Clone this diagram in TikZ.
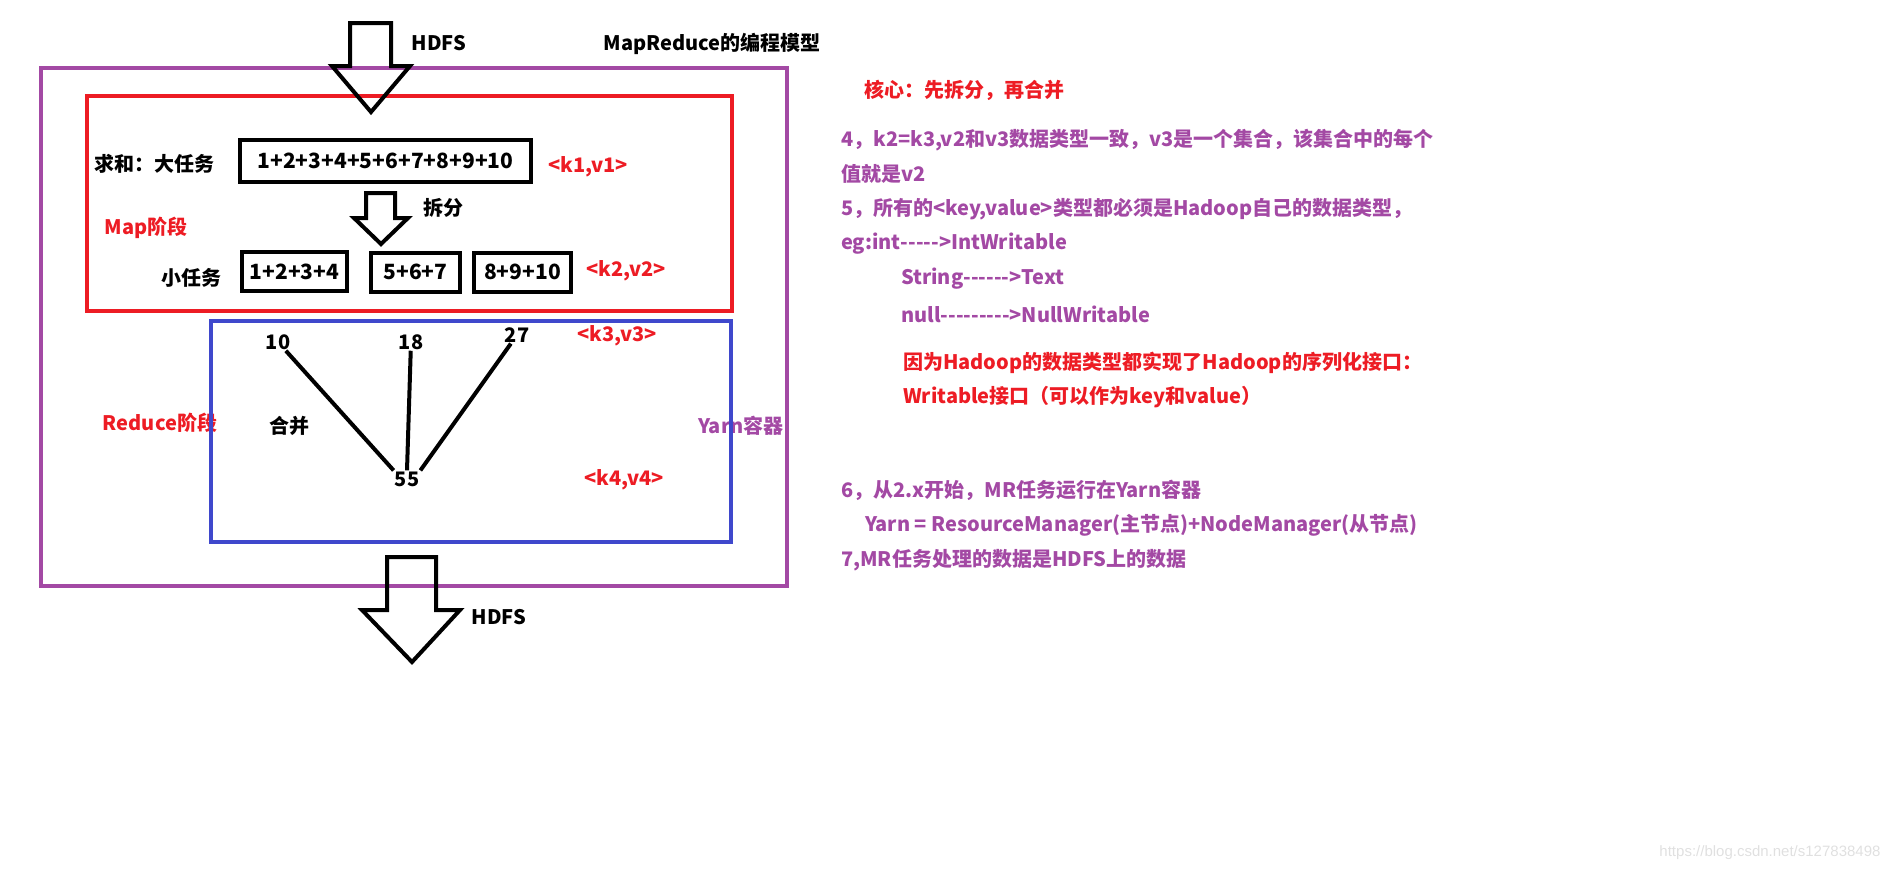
\documentclass[tikz,border=0pt]{standalone}
\usepackage{fontspec}
\setmainfont{Noto Sans CJK SC}
\newfontfamily\wmfont{Liberation Sans}
\definecolor{mrpurple}{RGB}{163,73,164}
\definecolor{mrred}{RGB}{237,28,36}
\definecolor{mrblue}{RGB}{63,72,204}
\newcommand{\hy}{\mbox{-}}

\begin{document}
\begin{tikzpicture}[x=1pt, y=-1pt, font=\fontsize{20}{24}\selectfont\bfseries,
  task/.style={draw, line width=4pt, minimum height=39pt, inner sep=0pt, font=\fontsize{21}{24}\selectfont\bfseries},
  blockarrow/.style={draw, line width=4pt},
  kv/.style={text=mrred},
  note/.style={anchor=west, text=mrpurple, inner sep=0pt},
  rednote/.style={anchor=west, text=mrred, inner sep=0pt}]

\useasboundingbox (0,0) rectangle (1892,873);

\node (model) at (712,44) {MapReduce的编程模型};
\node (hdfsin) at (439,43) {HDFS};
\node (hdfsout) at (499,617) {HDFS};

\draw[mrpurple, line width=4pt] (41,68) rectangle (787,586);
\draw[mrred, line width=4pt] (87,96) rectangle (732,311);

\node (bigtxt) at (154,164) {求和：大任务};
\node[task, minimum width=291pt, minimum height=42pt] (big) at (385.5,161) {1+2+3+4+5+6+7+8+9+10};
\node[kv] (kv1) at (588,167) {<k1,v1>};
\node (split) at (443,208) {拆分};
\node[text=mrred] (map) at (146,228) {Map阶段};
\node (smalltxt) at (191,278) {小任务};
\node[task, minimum width=105pt] (s1) at (294.5,271.5) {1+2+3+4};
\node[task, minimum width=89pt] (s2) at (415.5,272) {5+6+7};
\node[task, minimum width=97pt] (s3) at (522.5,272) {8+9+10};
\node[kv] (kv2) at (626,271) {<k2,v2>};

\node[text=mrred] (reduce) at (160,423) {Reduce阶段};
\node[text=mrpurple] (yarn) at (741,426) {Yarn容器};
\draw[mrblue, line width=4pt] (211,321) rectangle (731,542);

\node[inner sep=1pt] (n10) at (278,342) {10};
\node[inner sep=1pt] (n18) at (411,342) {18};
\node[inner sep=1pt] (n27) at (517,335) {27};
\node[inner sep=1pt] (n55) at (407,479) {55};
\node (merge) at (289,426) {合并};
\node[kv] (kv3) at (617,336) {<k3,v3>};
\node[kv] (kv4) at (624,480) {<k4,v4>};
\draw[line width=4pt] (n10) -- (n55.north west);
\draw[line width=4pt] (n18) -- (n55.north);
\draw[line width=4pt] (n27) -- (n55.north east);

\draw[blockarrow] (350,23) -- (391,23) -- (391,66) -- (410,66) -- (371,112) -- (332,66) -- (350,66) -- cycle;
\draw[blockarrow] (366,193) -- (395,193) -- (395,218) -- (408,218) -- (381,244) -- (354,218) -- (366,218) -- cycle;
\draw[blockarrow] (387,557) -- (436,557) -- (436,610) -- (460,610) -- (412,662) -- (362,610) -- (387,610) -- cycle;

\node[rednote] (core) at (864,90) {核心：先拆分，再合并};
\node[note] (l4) at (841,140) {4，k2=k3,v2和v3数据类型一致，v3是一个集合，该集合中的每个};
\node[note] (l4b) at (841,174) {值就是v2};
\node[note] (l5) at (841,209) {5，所有的<key,value>类型都必须是Hadoop自己的数据类型，};
\node[note] (l5b) at (841,244) {eg:int\hy\hy\hy\hy\hy>IntWritable};
\node[note] (l5c) at (901,279) {String\hy\hy\hy\hy\hy\hy>Text};
\node[note] (l5d) at (901,314) {null\hy\hy\hy\hy\hy\hy\hy\hy\hy>NullWritable};
\node[rednote] (why) at (903,363) {因为Hadoop的数据类型都实现了Hadoop的序列化接口：};
\node[rednote] (why2) at (903,397) {Writable接口（可以作为key和value）};
\node[note] (l6) at (841,490) {6，从2.x开始，MR任务运行在Yarn容器};
\node[note] (l6b) at (865,525) {Yarn = ResourceManager(主节点)+NodeManager(从节点)};
\node[note] (l7) at (841,560) {7,MR任务处理的数据是HDFS上的数据};

\node[anchor=east, text=black!12, font=\wmfont\fontsize{15}{18}\selectfont] (wm) at (1884,853) {https://blog.csdn.net/s127838498};
\end{tikzpicture}
\end{document}
